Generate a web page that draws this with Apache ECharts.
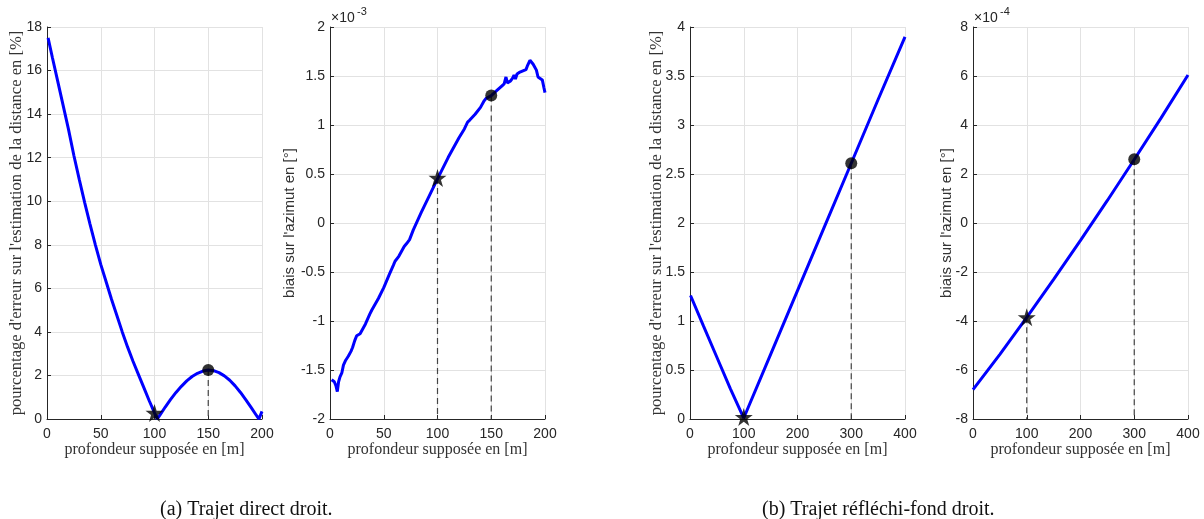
<!DOCTYPE html>
<html>
<head>
<meta charset="utf-8">
<script src="https://cdn.jsdelivr.net/npm/echarts@6/dist/echarts.min.js"></script>
<style>
html,body{margin:0;padding:0;background:#fff;}
#c{width:1204px;height:519px;}
</style>
</head>
<body>
<div id="c"></div>
<script>
// ---------- DATA ----------
// (a) Trajet direct droit — distance error [%]
const xA1 = [1,5,10,15,20,25,30,35,40,45,50,55,60,65,70,75,80,85,90,95,100,102.6,105,110,115,120,125,130,135,140,145,150,155,160,165,170,175,180,185,190,195,197.2,200];
const yA1 = [17.5,16.6,15.5,14.4,13.3,12.1,11.0,9.95,8.95,8.0,7.1,6.3,5.5,4.75,4.0,3.3,2.65,2.05,1.45,0.85,0.28,0,0.18,0.55,0.9,1.22,1.5,1.75,1.95,2.1,2.2,2.25,2.22,2.13,1.98,1.78,1.52,1.22,0.88,0.52,0.15,0,0.35];
// (a) azimuth bias [x1e-3 °]
const xA2 = [1.5,4,5.5,6.8,8,9.3,11,12.5,14.6,17,19.5,21,23,24.8,26,28,33,37,38.8,40,45,50,55,59,60.5,62,64,69,71.3,72.5,74,77.5,85,92,100,105,110,115,120,125,128,130,135,140,143,145,150,155,160,162,163.7,165,166,168,170,171.2,172.5,174,176.7,180,182.3,183.5,185,186,187.5,189,190.7,192,193.5,195,197.5,199,200];
const yA2 = [-1.60,-1.62,-1.66,-1.72,-1.62,-1.57,-1.53,-1.45,-1.40,-1.36,-1.31,-1.27,-1.20,-1.15,-1.17,-1.13,-1.03,-0.93,-0.89,-0.88,-0.77,-0.66,-0.53,-0.43,-0.39,-0.40,-0.34,-0.24,-0.21,-0.22,-0.17,-0.07,0.11,0.27,0.45,0.56,0.67,0.77,0.87,0.96,1.03,1.05,1.11,1.18,1.24,1.27,1.30,1.35,1.40,1.42,1.49,1.43,1.41,1.45,1.48,1.51,1.47,1.52,1.54,1.555,1.565,1.60,1.59,1.66,1.64,1.62,1.63,1.56,1.49,1.48,1.46,1.38,1.33];
// (b) Trajet réfléchi-fond droit — distance error [%]
const xB1 = [1,25,50,75,100,150,200,250,300,350,400];
const yB1 = [1.26,0.95,0.63,0.31,0.01,0.66,1.31,1.96,2.61,3.26,3.9];
// (b) azimuth bias [x1e-4 °]
const xB2 = [0,50,100,150,200,250,300,350,400];
const yB2 = [-6.8,-5.36,-3.85,-2.30,-0.71,0.92,2.59,4.29,6.04];

// markers: star = true depth, dot = assumed depth
const starA1 = [100, 0.28], dotA1 = [150, 2.25];
const starA2 = [100, 0.46], dotA2 = [150, 1.30];
const starB1 = [100, 0.02], dotB1 = [300, 2.61];
const starB2 = [100, -3.85], dotB2 = [300, 2.6];

// axis settings
const xTicksA = {min:0, max:200, interval:50};
const xTicksB = {min:0, max:400, interval:100};
const yTicks = [
  {min:0, max:18, interval:2},
  {min:-2, max:2, interval:0.5},
  {min:0, max:4, interval:0.5},
  {min:-8, max:8, interval:2}
];
const xLabel = 'profondeur supposée en [m]';
const yLabelDist = "pourcentage d'erreur sur l'estimation de la distance en [%]";
const yLabelAz = "biais sur l'azimut en [°]";
const exps = ['-3','-4'];
const captions = ['(a) Trajet direct droit.', '(b) Trajet réfléchi-fond droit.'];

// ---------- CHART ----------
const chart = echarts.init(document.getElementById('c'), null, {renderer:'canvas'});
const STAR = 'path://M50,0 L61.2,34.5 L97.6,34.5 L68.2,55.9 L79.4,90.5 L50,69.1 L20.6,90.5 L31.8,55.9 L2.4,34.5 L38.8,34.5 Z';
const SANS = 'Liberation Sans, Arial, sans-serif';
const SERIF = 'Liberation Serif, DejaVu Serif, serif';
const gridW = 215, gridH = 392, gridTop = 27;
const lefts = [47, 330, 690, 973];
const grids = lefts.map(l => ({left:l, top:gridTop, width:gridW, height:gridH}));

const axColor = '#262626';
function mkX(i, t) {
  return {
    type:'value', gridIndex:i, min:t.min, max:t.max, interval:t.interval,
    name:xLabel, nameLocation:'middle', nameGap:23, nameMoveOverlap:false,
    nameTextStyle:{fontFamily:SERIF, fontSize:16, color:'#333'},
    axisLine:{onZero:false, lineStyle:{color:axColor, width:1}},
    axisTick:{inside:true, length:4, lineStyle:{color:axColor}},
    axisLabel:{fontFamily:SANS, fontSize:14, color:axColor, margin:8},
    splitLine:{show:true, lineStyle:{color:'#e2e2e2', width:1}}
  };
}
function mkY(i, t, name, serif, gap) {
  return {
    type:'value', gridIndex:i, min:t.min, max:t.max, interval:t.interval,
    name:name, nameLocation:'middle', nameGap:gap, nameMoveOverlap:false,
    nameTextStyle:{fontFamily: serif ? SERIF : SANS, fontSize: serif ? 16.6 : 15, color:'#333'},
    axisLine:{onZero:false, lineStyle:{color:axColor, width:1}},
    axisTick:{inside:true, length:4, lineStyle:{color:axColor}},
    axisLabel:{fontFamily:SANS, fontSize:14, color:axColor, margin:5},
    splitLine:{show:true, lineStyle:{color:'#e2e2e2', width:1}}
  };
}
function zip(xs, ys){ return xs.map((x,k)=>[x, ys[k]]); }
function curve(i, xs, ys) {
  return {type:'line', xAxisIndex:i, yAxisIndex:i, data:zip(xs,ys), showSymbol:false,
    lineStyle:{color:'#0000ff', width:3}, z:3, animation:false};
}
function dashed(i, p, ymin) {
  return {type:'line', xAxisIndex:i, yAxisIndex:i, data:[[p[0],p[1]],[p[0],ymin]], showSymbol:false,
    lineStyle:{color:'#444', width:1.2, type:[6,4]}, z:2, animation:false};
}
function marker(i, p, sym, size) {
  return {type:'scatter', xAxisIndex:i, yAxisIndex:i, data:[p], symbol:sym, symbolSize:size,
    itemStyle:{color:'#000'}, z:5, animation:false};
}

const series = [
  curve(0, xA1, yA1), dashed(0, dotA1, yTicks[0].min), marker(0, starA1, STAR, 18), marker(0, dotA1, 'circle', 12),
  curve(1, xA2, yA2), dashed(1, starA2, yTicks[1].min), dashed(1, dotA2, yTicks[1].min), marker(1, starA2, STAR, 18), marker(1, dotA2, 'circle', 12),
  curve(2, xB1, yB1), dashed(2, dotB1, yTicks[2].min), marker(2, starB1, STAR, 18), marker(2, dotB1, 'circle', 12),
  curve(3, xB2, yB2), dashed(3, starB2, yTicks[3].min), dashed(3, dotB2, yTicks[3].min), marker(3, starB2, STAR, 18), marker(3, dotB2, 'circle', 12)
];

const graphic = [];
[1,3].forEach((gi, k) => {
  graphic.push({type:'text', left:lefts[gi]+1, top:11, style:{text:'×10', font:'14px ' + SANS, fill:axColor}});
  graphic.push({type:'text', left:lefts[gi]+27, top:6, style:{text:exps[k], font:'11px ' + SANS, fill:axColor}});
});
graphic.push({type:'text', left:160, top:500, style:{text:captions[0], font:'20px ' + SERIF, fill:'#111'}});
graphic.push({type:'text', left:762, top:500, style:{text:captions[1], font:'20px ' + SERIF, fill:'#111'}});

chart.setOption({
  animation:false,
  backgroundColor:'#fff',
  grid:grids,
  xAxis:[mkX(0,xTicksA), mkX(1,xTicksA), mkX(2,xTicksB), mkX(3,xTicksB)],
  yAxis:[
    mkY(0, yTicks[0], yLabelDist, true, 22),
    mkY(1, yTicks[1], yLabelAz, false, 33),
    mkY(2, yTicks[2], yLabelDist, true, 25),
    mkY(3, yTicks[3], yLabelAz, false, 19)
  ],
  series:series,
  graphic:graphic
});
</script>
</body>
</html>
